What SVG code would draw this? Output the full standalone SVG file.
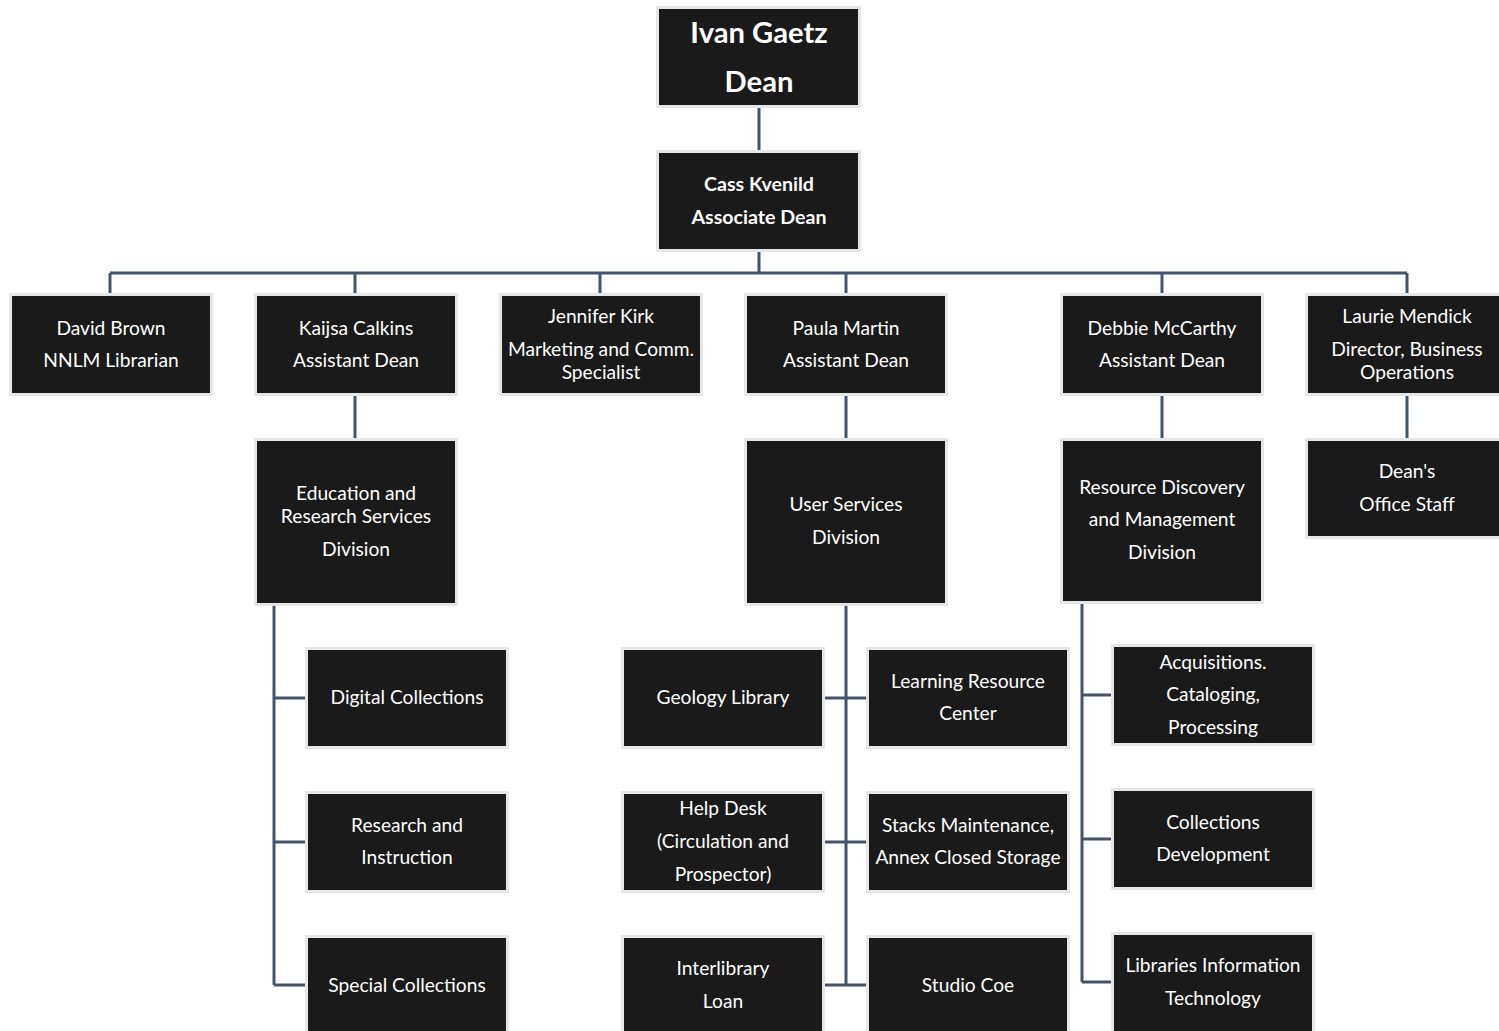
<svg xmlns="http://www.w3.org/2000/svg" width="1499" height="1031" viewBox="0 0 1499 1031">
<style>
.box{fill:#1a1a1a;stroke:#e6e6e6;stroke-width:3}
.t{font-family:Lato,"Liberation Sans",sans-serif;font-size:19.2px;fill:#ffffff;text-anchor:middle}
.b{font-weight:bold;font-size:19.6px}
.big{font-size:29.2px}
.c{stroke:#44546a;stroke-width:3;fill:none}
</style>
<rect width="1499" height="1031" fill="#ffffff"/>
<g id="connectors">
<path class="c" d="M759 108V150M759 252V273M110 273H1407M110 273V293M355 273V293M600 273V293M846 273V293M1162 273V293M1407 273V293"/>
<path class="c" d="M355 396V438M846 396V438M1162 396V438M1407 396V438"/>
<path class="c" d="M274 605V985M274 698H305M274 842H305M274 985H305"/>
<path class="c" d="M846 605V985M823 698H868M823 842H868M823 985H868"/>
<path class="c" d="M1082 603V982M1082 695H1112M1082 839H1112M1082 982H1112"/>
</g>
<g id="dean"><rect class="box" x="657.5" y="7.5" width="202" height="99"/>
<text class="t b big" x="759" y="43">Ivan Gaetz</text>
<text class="t b big" x="759" y="92">Dean</text></g>
<g id="assoc"><rect class="box" x="657.5" y="151.5" width="202" height="99"/>
<text class="t b" x="759" y="191">Cass Kvenild</text>
<text class="t b" x="759" y="224">Associate Dean</text></g>
<g id="brown"><rect class="box" x="10.5" y="294.5" width="201" height="100"/>
<text class="t" x="111" y="335">David Brown</text><text class="t" x="111" y="367">NNLM Librarian</text></g>
<g id="calkins"><rect class="box" x="255.5" y="294.5" width="201" height="100"/>
<text class="t" x="356" y="335">Kaijsa Calkins</text><text class="t" x="356" y="367">Assistant Dean</text></g>
<g id="kirk"><rect class="box" x="500.5" y="294.5" width="201" height="100"/>
<text class="t" x="601" y="323">Jennifer Kirk</text><text class="t" x="601" y="356">Marketing and Comm.</text><text class="t" x="601" y="379">Specialist</text></g>
<g id="martin"><rect class="box" x="745.5" y="294.5" width="201" height="100"/>
<text class="t" x="846" y="335">Paula Martin</text><text class="t" x="846" y="367">Assistant Dean</text></g>
<g id="mccarthy"><rect class="box" x="1061.5" y="294.5" width="201" height="100"/>
<text class="t" x="1162" y="335">Debbie McCarthy</text><text class="t" x="1162" y="367">Assistant Dean</text></g>
<g id="mendick"><rect class="box" x="1306.5" y="294.5" width="201" height="100"/>
<text class="t" x="1407" y="323">Laurie Mendick</text><text class="t" x="1407" y="356">Director, Business</text><text class="t" x="1407" y="379">Operations</text></g>
<g id="ers"><rect class="box" x="255.5" y="439.5" width="201" height="165"/>
<text class="t" x="356" y="500">Education and</text><text class="t" x="356" y="523">Research Services</text><text class="t" x="356" y="556">Division</text></g>
<g id="usd"><rect class="box" x="745.5" y="439.5" width="201" height="165"/>
<text class="t" x="846" y="511">User Services</text><text class="t" x="846" y="544">Division</text></g>
<g id="rdm"><rect class="box" x="1061.5" y="439.5" width="201" height="163"/>
<text class="t" x="1162" y="494">Resource Discovery</text><text class="t" x="1162" y="526">and Management</text><text class="t" x="1162" y="559">Division</text></g>
<g id="dos"><rect class="box" x="1306.5" y="439.5" width="201" height="98"/>
<text class="t" x="1407" y="478">Dean's</text><text class="t" x="1407" y="511">Office Staff</text></g>
<g id="digital"><rect class="box" x="306.5" y="648.5" width="201" height="99"/>
<text class="t" x="407" y="704">Digital Collections</text></g>
<g id="research"><rect class="box" x="306.5" y="792.5" width="201" height="99"/>
<text class="t" x="407" y="832">Research and</text><text class="t" x="407" y="864">Instruction</text></g>
<g id="special"><rect class="box" x="306.5" y="936.5" width="201" height="99"/>
<text class="t" x="407" y="992">Special Collections</text></g>
<g id="geology"><rect class="box" x="622.5" y="648.5" width="201" height="99"/>
<text class="t" x="723" y="704">Geology Library</text></g>
<g id="lrc"><rect class="box" x="867.5" y="648.5" width="201" height="99"/>
<text class="t" x="968" y="688">Learning Resource</text><text class="t" x="968" y="720">Center</text></g>
<g id="helpdesk"><rect class="box" x="622.5" y="792.5" width="201" height="99"/>
<text class="t" x="723" y="815">Help Desk</text><text class="t" x="723" y="848">(Circulation and</text><text class="t" x="723" y="881">Prospector)</text></g>
<g id="stacks"><rect class="box" x="867.5" y="792.5" width="201" height="99"/>
<text class="t" x="968" y="832">Stacks Maintenance,</text><text class="t" x="968" y="864">Annex Closed Storage</text></g>
<g id="ill"><rect class="box" x="622.5" y="936.5" width="201" height="99"/>
<text class="t" x="723" y="975">Interlibrary</text><text class="t" x="723" y="1008">Loan</text></g>
<g id="studio"><rect class="box" x="867.5" y="936.5" width="201" height="99"/>
<text class="t" x="968" y="992">Studio Coe</text></g>
<g id="acq"><rect class="box" x="1112.5" y="645.5" width="201" height="99"/>
<text class="t" x="1213" y="669">Acquisitions.</text><text class="t" x="1213" y="701">Cataloging,</text><text class="t" x="1213" y="734">Processing</text></g>
<g id="colldev"><rect class="box" x="1112.5" y="789.5" width="201" height="99"/>
<text class="t" x="1213" y="829">Collections</text><text class="t" x="1213" y="861">Development</text></g>
<g id="lit"><rect class="box" x="1112.5" y="933.5" width="201" height="99"/>
<text class="t" x="1213" y="972">Libraries Information</text><text class="t" x="1213" y="1005">Technology</text></g>
</svg>
